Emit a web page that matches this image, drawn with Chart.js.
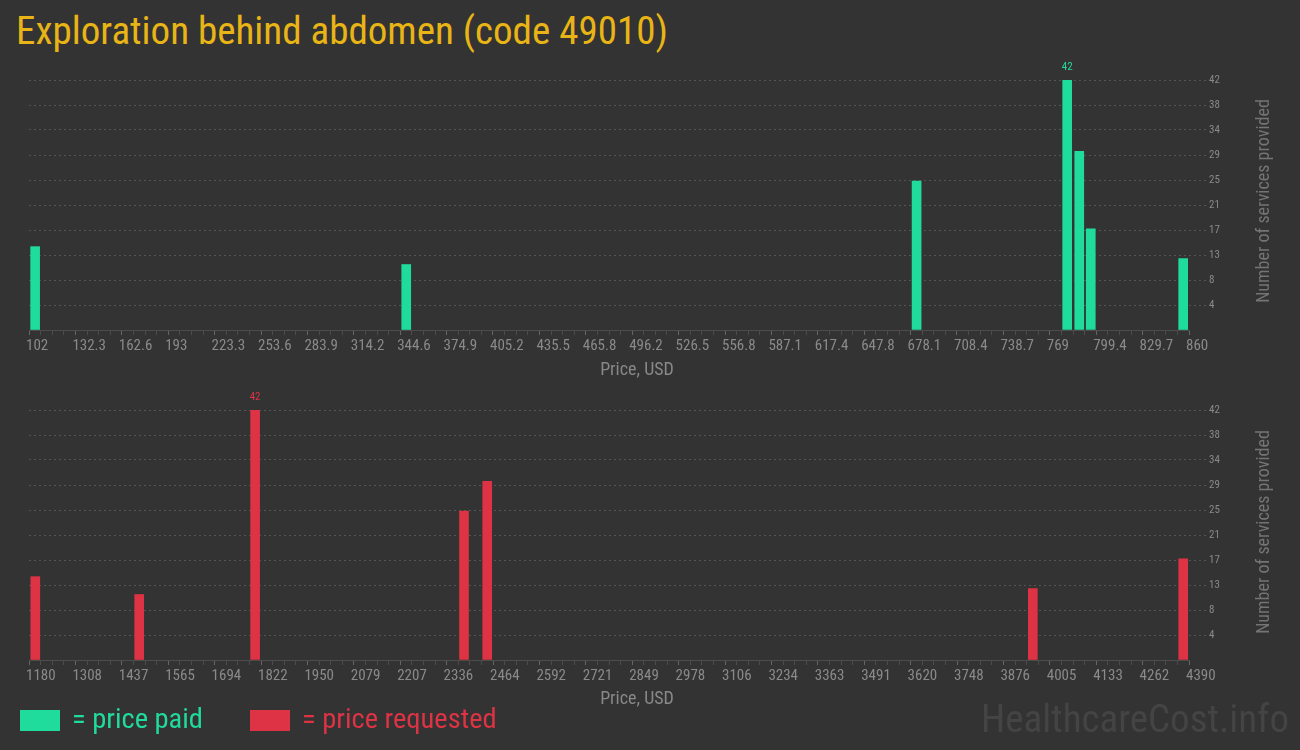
<!DOCTYPE html>
<html>
<head>
<meta charset="utf-8">
<script src="https://cdn.jsdelivr.net/npm/chart.js@4/dist/chart.umd.min.js"></script>
<style>
  body { margin: 0; background: #333333; width: 1300px; height: 750px; overflow: hidden; position: relative; font-family: 'Roboto Condensed', Roboto, sans-serif; }
  .title { position: absolute; left: 16px; top: 8px; font-size: 39px; line-height: 46px; color: #e8b416; white-space: nowrap; }
  canvas { position: absolute; left: 0; }
  #chartPaid { top: 60px; }
  #chartRequested { top: 390px; }
  .ytitle { position: absolute; width: 260px; left: 1133px; text-align: center; font-size: 18px; line-height: 22px; color: #747474; transform: rotate(-90deg); white-space: nowrap; }
  .xtitle { position: absolute; width: 200px; left: 537px; text-align: center; font-size: 18px; line-height: 22px; color: #888; white-space: nowrap; }
  .legend-box { position: absolute; top: 710px; width: 40px; height: 21px; }
  .legend-text { position: absolute; top: 702px; font-size: 28.5px; line-height: 34px; white-space: nowrap; }
  .watermark { position: absolute; left: 981px; top: 696px; font-size: 39px; line-height: 46px; color: #444444; white-space: nowrap; }
</style>
</head>
<body>
<div class="title">Exploration behind abdomen (code 49010)</div>
<canvas id="chartPaid" width="1300" height="330"></canvas>
<canvas id="chartRequested" width="1300" height="330"></canvas>
<div class="ytitle" style="top: 190px;">Number of services provided</div>
<div class="ytitle" style="top: 521px;">Number of services provided</div>
<div class="xtitle" style="top: 358px;">Price, USD</div>
<div class="xtitle" style="top: 687px;">Price, USD</div>
<div class="legend-box" style="left: 20px; background: #20dc9c;"></div>
<div class="legend-text" style="left: 72px; color: #20dc9c;">= price paid</div>
<div class="legend-box" style="left: 250px; background: #dd3344;"></div>
<div class="legend-text" style="left: 302px; color: #dd3344;">= price requested</div>
<div class="watermark">HealthcareCost.info</div>

<script>
// price paid (USD) -> number of services
let paidPrices = [106, 348.5, 682, 780.4, 788.3, 795.8, 856.2];
let paidCounts = [14, 11, 25, 42, 30, 17, 12];
let paidTickLabels = ["102", "132.3", "162.6", "193", "223.3", "253.6", "283.9", "314.2", "344.6", "374.9",
  "405.2", "435.5", "465.8", "496.2", "526.5", "556.8", "587.1", "617.4", "647.8", "678.1",
  "708.4", "738.7", "769", "799.4", "829.7", "860"];

// price requested (USD) -> number of services
let requestedPrices = [1197.4, 1485, 1805.7, 2383.8, 2448, 3957.8, 4374];
let requestedCounts = [14, 11, 42, 25, 30, 12, 17];
let requestedTickLabels = ["1180", "1308", "1437", "1565", "1694", "1822", "1950", "2079", "2207", "2336",
  "2464", "2592", "2721", "2849", "2978", "3106", "3234", "3363", "3491", "3620",
  "3748", "3876", "4005", "4133", "4262", "4390"];

// y axis, shared by both charts
let yMax = 42;
let yTickLabels = ["4", "8", "13", "17", "21", "25", "29", "34", "38", "42"];

let fontFamily = "'Roboto Condensed', Roboto, sans-serif";
let tickColor = '#8a8a8a';
let gridColor = '#555555';

// puts the count above the tallest bar
let maxLabelPlugin = {
  id: 'maxLabel',
  afterDatasetsDraw: function(chart) {
    let ds = chart.data.datasets[0];
    let meta = chart.getDatasetMeta(0);
    let best = 0;
    for (let i = 1; i < ds.data.length; i++) {
      if (ds.data[i].y > ds.data[best].y) { best = i; }
    }
    let bar = meta.data[best];
    let ctx = chart.ctx;
    ctx.save();
    ctx.font = '11px ' + fontFamily;
    ctx.fillStyle = ds.backgroundColor;
    ctx.textAlign = 'center';
    ctx.textBaseline = 'middle';
    ctx.fillText(ds.data[best].y.toString(), bar.x, bar.y - 13);
    ctx.restore();
  }
};

let drawHistogram = function(canvasId, prices, counts, tickLabels, color) {
  let points = [];
  for (let i = 0; i < prices.length; i++) {
    points.push({x: prices[i], y: counts[i]});
  }
  let xMin = parseFloat(tickLabels[0]);
  let xMax = parseFloat(tickLabels[tickLabels.length - 1]);
  let majorStep = (xMax - xMin) / (tickLabels.length - 1);

  return new Chart(document.getElementById(canvasId), {
    type: 'bar',
    data: {
      datasets: [{
        data: points,
        backgroundColor: color,
        barThickness: 9,
        borderWidth: 0
      }]
    },
    plugins: [maxLabelPlugin],
    options: {
      responsive: false,
      animation: false,
      events: [],
      layout: { padding: { left: 29, top: 20, right: 0, bottom: 0 } },
      plugins: {
        legend: { display: false },
        tooltip: { enabled: false }
      },
      scales: {
        x: {
          type: 'linear',
          offset: false,
          min: xMin,
          max: xMax,
          afterFit: function(scale) { scale.height = 60; },
          afterBuildTicks: function(scale) {
            let ticks = [];
            // 4 sub-ticks per labelled interval
            for (let i = 0; i <= (tickLabels.length - 1) * 4; i++) {
              ticks.push({value: xMin + i * majorStep / 4});
            }
            scale.ticks = ticks;
          },
          ticks: {
            autoSkip: false,
            maxRotation: 0,
            minRotation: 0,
            align: 'start',
            labelOffset: -3,
            padding: 2,
            color: tickColor,
            font: { family: fontFamily, size: 15 },
            callback: function(value, index) {
              return index % 4 == 0 ? tickLabels[index / 4] : '';
            }
          },
          grid: {
            offset: false,
            drawOnChartArea: false,
            tickLength: 5,
            tickColor: function(ctx) { return ctx.index % 4 == 0 ? '#666666' : '#4c4c4c'; }
          },
          border: { color: '#4c4c4c', width: 1 }
        },
        y: {
          position: 'right',
          min: 0,
          max: yMax,
          afterFit: function(scale) { scale.width = 111; },
          afterBuildTicks: function(scale) {
            let ticks = [{value: 0}];
            for (let i = 0; i < yTickLabels.length; i++) {
              ticks.push({value: yMax * (i + 1) / yTickLabels.length});
            }
            scale.ticks = ticks;
          },
          ticks: {
            padding: 3,
            color: tickColor,
            font: { family: fontFamily, size: 11 },
            callback: function(value, index) {
              return index == 0 ? '' : yTickLabels[index - 1];
            }
          },
          grid: {
            color: function(ctx) { return ctx.index == 0 ? 'rgba(0,0,0,0)' : gridColor; },
            tickColor: function(ctx) { return ctx.index == 0 ? 'rgba(0,0,0,0)' : gridColor; },
            tickBorderDash: [2, 3],
            tickLength: 17,
            lineWidth: 1
          },
          border: { display: false, dash: [2, 3] }
        }
      }
    }
  });
};

drawHistogram('chartPaid', paidPrices, paidCounts, paidTickLabels, '#20dc9c');
drawHistogram('chartRequested', requestedPrices, requestedCounts, requestedTickLabels, '#dd3344');
</script>
</body>
</html>
